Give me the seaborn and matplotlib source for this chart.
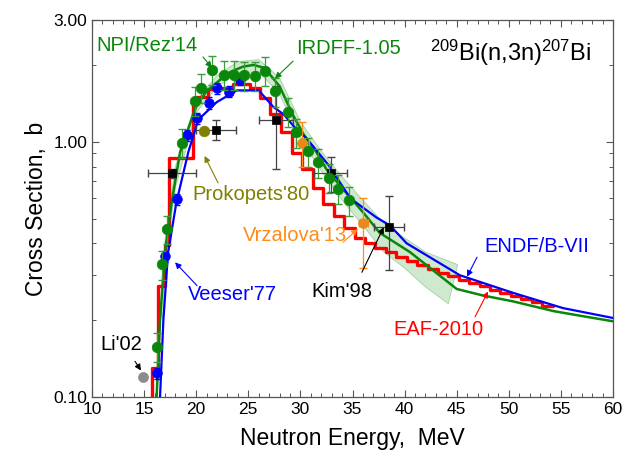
import numpy as np
import pandas as pd
import matplotlib
matplotlib.use("Agg")
import matplotlib.pyplot as plt
import seaborn as sns
from matplotlib.ticker import FixedLocator, FixedFormatter, MultipleLocator, NullFormatter

# ---------------- data ----------------
# IRDFF-1.05 evaluation (green line)
irdff_E = [16.2, 16.53, 17.0, 17.65, 18.45, 19.57, 20.05, 21.0, 22.3, 23.3, 24.5, 25.5, 26.5,
           27.0, 28.0, 29.3, 30.3, 31.4, 32.5, 33.8, 36.0, 37.6, 40.5, 45.0, 47.5, 50.4, 54.3, 57.2, 60.0]
irdff_v = [0.10, 0.20, 0.37, 0.58, 0.91, 1.23, 1.39, 1.58, 1.75, 1.88, 1.97, 2.00, 1.95,
           1.85, 1.65, 1.27, 1.07, 0.93, 0.78, 0.673, 0.53, 0.44, 0.37, 0.265, 0.25, 0.237, 0.217, 0.207, 0.198]

# IRDFF uncertainty band
band_hi_E = [16.6, 17.0, 18.0, 20.0, 22.0, 24.0, 26.0, 28.0, 30.0, 32.0, 34.0, 36.0, 38.0, 40.0, 42.0, 45.1]
band_hi_v = [0.22, 0.41, 0.80, 1.45, 1.82, 2.06, 2.10, 1.78, 1.20, 0.92, 0.73, 0.59, 0.48, 0.42, 0.37, 0.33]
band_lo_E = [16.8, 17.0, 18.0, 20.0, 22.0, 24.0, 26.0, 28.0, 30.0, 32.0, 34.0, 36.0, 38.0, 40.0, 42.0, 44.2]
band_lo_v = [0.20, 0.33, 0.66, 1.30, 1.64, 1.86, 1.88, 1.54, 1.03, 0.77, 0.59, 0.47, 0.37, 0.32, 0.27, 0.232]

# ENDF/B-VII (blue line)
endf_E = [16.53, 16.85, 17.3, 18.1, 19.24, 20.2, 21.97, 23.9, 26.0, 27.4, 28.4, 29.6, 30.6,
          32.7, 34.8, 37.3, 38.6, 40.2, 45.3, 50.4, 55.2, 60.0]
endf_v = [0.10, 0.20, 0.368, 0.579, 0.91, 1.22, 1.43, 1.59, 1.59, 1.37, 1.28, 1.12, 1.03,
          0.81, 0.60, 0.505, 0.47, 0.40, 0.30, 0.256, 0.223, 0.204]

# EAF-2010 (red histogram): bin edges and values
eaf_edges = [15.8, 16.37, 17.0, 17.39, 19.72, 20.1, 21.1, 22.0, 23.5, 25.2, 26.1, 27.1, 28.1,
             29.2, 30.2, 31.2, 32.2, 33.2, 34.2, 35.2, 36.2, 37.2, 38.2, 39.2, 40.2, 41.2, 42.2,
             43.2, 44.2, 45.2, 46.2, 47.2, 48.2, 49.2, 50.2, 51.2, 52.2, 53.2, 54.2]
eaf_vals = [0.13, 0.272, 0.393, 0.863, 1.40, 1.50, 1.61, 1.63, 1.68, 1.62, 1.48, 1.29,
            1.09, 0.90, 0.78, 0.66, 0.57, 0.51, 0.46, 0.42, 0.40, 0.385, 0.37, 0.355, 0.342,
            0.33, 0.318, 0.307, 0.297, 0.288, 0.279, 0.271, 0.263, 0.256, 0.249, 0.242, 0.236, 0.228]

# NPI/Rez'14 (green dots)
npi_E = [16.2, 16.7, 17.17, 18.6, 19.9, 20.5, 21.5, 22.7, 23.6, 24.6, 25.6, 26.6, 27.6,
         28.8, 29.6, 30.7, 31.7, 32.7, 33.6, 34.7]
npi_v = [0.157, 0.331, 0.455, 0.99, 1.45, 1.63, 1.91, 1.83, 1.83, 1.82, 1.81, 1.90, 1.58,
         1.31, 1.09, 0.916, 0.832, 0.721, 0.653, 0.591]
npi_rel_err = 0.13

# Veeser'77 (blue dots)
veeser_E = [16.2, 17.0, 18.13, 19.1, 20.1, 21.2, 22.0, 23.1, 24.2]
veeser_v = [0.124, 0.357, 0.596, 1.06, 1.24, 1.42, 1.62, 1.57, 1.75]
veeser_rel_err = 0.05
veeser_xerr = 0.3

# Kim'98 (black squares)
kim_E = [17.7, 21.9, 27.66, 32.9, 38.5]
kim_v = [0.753, 1.115, 1.22, 0.753, 0.464]
kim_xerr = [2.3, 1.95, 1.6, 1.55, 1.4]
kim_yerr = [0.03, 0.10, 0.44, 0.12, 0.15]

# Vrzalova'13 (orange)
vrz_E = [30.2, 36.05]
vrz_v = [0.99, 0.48]
vrz_xerr = [0.65, 0.4]
vrz_yerr_lo = [0.19, 0.16]
vrz_yerr_hi = [0.20, 0.12]

# Prokopets'80 (olive)
prok_E = [20.75]
prok_v = [1.10]

# Li'02 (gray)
li_E = [14.87]
li_v = [0.12]

x_ticks = [10, 15, 20, 25, 30, 35, 40, 45, 50, 55, 60]
y_ticks = [0.1, 1.0, 3.0]
y_tick_labels = ["0.10", "1.00", "3.00"]

# ---------------- style ----------------
sns.set_theme(style="ticks")
plt.rcParams['font.family'] = ['Liberation Sans', 'DejaVu Sans']
plt.rcParams['mathtext.fontset'] = 'custom'
plt.rcParams['mathtext.rm'] = 'Liberation Sans'
plt.rcParams['mathtext.it'] = 'Liberation Sans:italic'
plt.rcParams['mathtext.bf'] = 'Liberation Sans:bold'
plt.rcParams['text.color'] = 'black'
plt.rcParams['axes.labelcolor'] = 'black'

GREEN = '#0a870a'
BLUE = '#0000ff'
RED = '#ff0000'
OLIVE = '#808000'
ORANGE = '#ff8c1a'

fig = plt.figure(figsize=(6.29, 4.62), dpi=100)
ax = fig.add_axes([92/629, 65/462, 521/629, 377/462])

# band
poly_x = band_hi_E + band_lo_E[::-1]
poly_y = band_hi_v + band_lo_v[::-1]
ax.fill(poly_x, poly_y, color='#a9d8a9', alpha=0.55, edgecolor='#6fb46f', lw=0.6, zorder=1)

# EAF step histogram
eaf_x = [eaf_edges[0]] + eaf_edges
eaf_y = [0.05] + eaf_vals + [eaf_vals[-1]]
eaf_df = pd.DataFrame({'E': eaf_x, 'v': eaf_y})
sns.lineplot(data=eaf_df, x='E', y='v', ax=ax, color=RED, lw=2.4, estimator=None,
             sort=False, drawstyle='steps-post', zorder=2)

# IRDFF line
sns.lineplot(x=irdff_E, y=irdff_v, ax=ax, color=GREEN, lw=1.8, estimator=None, sort=False, zorder=3)
# ENDF line
sns.lineplot(x=endf_E, y=endf_v, ax=ax, color=BLUE, lw=1.6, estimator=None, sort=False, zorder=3)

# Kim'98
ax.errorbar(kim_E, kim_v, xerr=kim_xerr, yerr=kim_yerr, fmt='none', ecolor='#444444',
            elinewidth=0.9, capsize=3, zorder=4)
sns.scatterplot(x=kim_E, y=kim_v, ax=ax, marker='s', s=36, color='black', edgecolor='black',
                linewidth=0.5, zorder=5)

# Vrzalova'13
ax.errorbar(vrz_E, vrz_v, xerr=vrz_xerr, yerr=[vrz_yerr_lo, vrz_yerr_hi], fmt='none',
            ecolor=ORANGE, elinewidth=0.9, capsize=3, zorder=4)
sns.scatterplot(x=vrz_E, y=vrz_v, ax=ax, marker='o', s=50, color='#e8891e', edgecolor='#e8891e',
                linewidth=0.5, zorder=5)

# Veeser'77
veeser_err = [veeser_rel_err * v for v in veeser_v]
ax.errorbar(veeser_E, veeser_v, xerr=veeser_xerr, yerr=veeser_err, fmt='none', ecolor=BLUE,
            elinewidth=0.8, capsize=2, zorder=4)
sns.scatterplot(x=veeser_E, y=veeser_v, ax=ax, marker='o', s=48, color=BLUE, edgecolor=BLUE,
                linewidth=0.5, zorder=5)

# NPI/Rez'14
npi_err = [npi_rel_err * v for v in npi_v]
ax.errorbar(npi_E, npi_v, yerr=npi_err, fmt='none', ecolor='#3c9c3c', elinewidth=0.9,
            capsize=3, zorder=5)
sns.scatterplot(x=npi_E, y=npi_v, ax=ax, marker='o', s=58, color=GREEN, edgecolor=GREEN,
                linewidth=0.5, zorder=6)

# Prokopets'80
sns.scatterplot(x=prok_E, y=prok_v, ax=ax, marker='o', s=58, color=OLIVE, edgecolor=OLIVE,
                linewidth=0.5, zorder=6)
# Li'02
sns.scatterplot(x=li_E, y=li_v, ax=ax, marker='o', s=52, color='#8c8c8c', edgecolor='#8c8c8c',
                linewidth=0.5, zorder=6)

# ---------------- axes ----------------
ax.set_yscale('log')
ax.set_xlim(10, 60)
ax.set_ylim(0.1, 3.0)
ax.xaxis.set_major_locator(FixedLocator(x_ticks))
ax.xaxis.set_minor_locator(MultipleLocator(1))
ax.yaxis.set_major_locator(FixedLocator(y_ticks))
ax.yaxis.set_major_formatter(FixedFormatter(y_tick_labels))
ax.yaxis.set_minor_locator(FixedLocator([0.2, 0.3, 0.4, 0.5, 0.6, 0.7, 0.8, 0.9, 2.0]))
ax.yaxis.set_minor_formatter(NullFormatter())
ax.tick_params(which='both', direction='in', top=True, right=True, colors='#555555',
               labelcolor='black', labelsize=12.5)
ax.tick_params(which='major', length=5, width=0.8)
ax.tick_params(which='minor', length=3, width=0.7)
for s in ax.spines.values():
    s.set_color('#555555')
    s.set_linewidth(0.9)
ax.set_xlabel('Neutron Energy,  MeV', fontsize=16.5, labelpad=7, color='black')
ax.set_ylabel('Cross Section,  b', fontsize=16.5, labelpad=4, color='black')

# ---------------- annotations ----------------
def arrow(xy, xyfrom, color):
    ax.annotate('', xy=xy, xytext=xyfrom,
                arrowprops=dict(arrowstyle='-|>', color=color, lw=0.8, mutation_scale=9,
                                shrinkA=0, shrinkB=0), zorder=7)

ax.text(10.38, 2.39, "NPI/Rez'14", color=GREEN, fontsize=14.5, ha='left', va='center')
arrow((21.5, 1.95), (20.65, 2.15), GREEN)
ax.text(29.6, 2.32, "IRDFF-1.05", color=GREEN, fontsize=14.5, ha='left', va='center')
arrow((27.56, 1.77), (29.3, 2.07), GREEN)
ax.text(42.4, 2.08, r'$^{209}$Bi(n,3n)$^{207}$Bi', color='black', fontsize=17,
        ha='left', va='baseline')
ax.text(19.6, 0.624, "Prokopets'80", color=OLIVE, fontsize=14.5, ha='left', va='center')
arrow((20.8, 0.88), (22.1, 0.69), OLIVE)
ax.text(24.5, 0.43, "Vrzalova'13", color=ORANGE, fontsize=14.5, ha='left', va='center')
arrow((35.5, 0.455), (34.1, 0.404), ORANGE)
ax.text(19.2, 0.252, "Veeser'77", color=BLUE, fontsize=14.5, ha='left', va='center')
arrow((17.97, 0.337), (20.08, 0.273), BLUE)
ax.text(31.1, 0.259, "Kim'98", color='black', fontsize=14.5, ha='left', va='center')
arrow((38.0, 0.463), (35.9, 0.308), 'black')
ax.text(47.7, 0.389, "ENDF/B-VII", color=BLUE, fontsize=14.5, ha='left', va='center')
arrow((45.99, 0.296), (46.95, 0.353), BLUE)
ax.text(38.9, 0.184, "EAF-2010", color=RED, fontsize=14.5, ha='left', va='center')
arrow((48.0, 0.259), (46.76, 0.206), RED)
ax.text(10.77, 0.16, "Li'02", color='black', fontsize=14.5, ha='left', va='center')
arrow((14.7, 0.127), (14.13, 0.138), 'black')

fig.savefig('out.png', dpi=100)
